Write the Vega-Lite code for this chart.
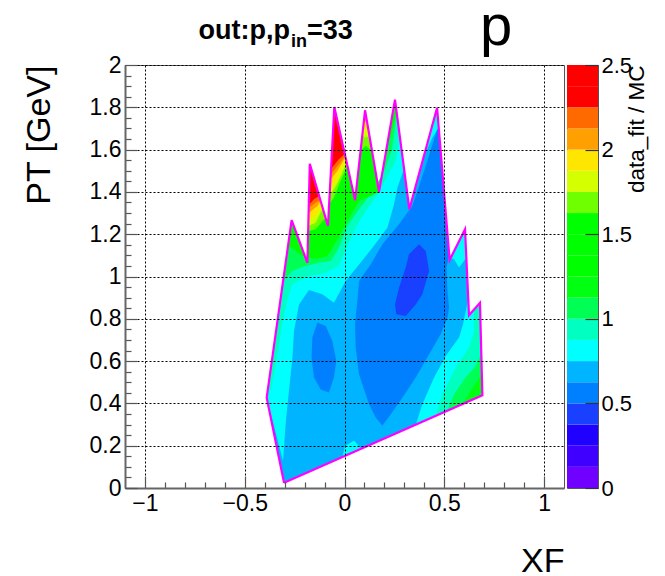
{"$schema":"https://vega.github.io/schema/vega-lite/v6.json","padding":{"left":22,"top":-2,"right":0,"bottom":0},"background":"white","spacing":1,"config":{"font":"Liberation Sans","view":{"stroke":"#555555"},"concat":{"spacing":1}},
"datasets":{
"outline":[{"o":1,"x":-0.303,"y":0.025},{"o":2,"x":-0.39,"y":0.427},{"o":3,"x":-0.265,"y":1.266},{"o":4,"x":-0.186,"y":1.065},{"o":5,"x":-0.174,"y":1.533},{"o":6,"x":-0.083,"y":1.239},{"o":7,"x":-0.051,"y":1.801},{"o":8,"x":0.053,"y":1.36},{"o":9,"x":0.103,"y":1.786},{"o":10,"x":0.173,"y":1.4},{"o":11,"x":0.253,"y":1.836},{"o":12,"x":0.325,"y":1.318},{"o":13,"x":0.464,"y":1.798},{"o":14,"x":0.527,"y":1.078},{"o":15,"x":0.604,"y":1.223},{"o":16,"x":0.624,"y":0.817},{"o":17,"x":0.679,"y":0.876},{"o":18,"x":0.691,"y":0.438},{"o":19,"x":-0.303,"y":0.025}],
"regions":[
{"g":"a","v":0.6875,"o":1,"x":-0.303,"y":0.025},{"g":"a","v":0.6875,"o":2,"x":-0.39,"y":0.427},{"g":"a","v":0.6875,"o":3,"x":-0.265,"y":1.266},{"g":"a","v":0.6875,"o":4,"x":-0.186,"y":1.065},{"g":"a","v":0.6875,"o":5,"x":-0.174,"y":1.533},{"g":"a","v":0.6875,"o":6,"x":-0.083,"y":1.239},{"g":"a","v":0.6875,"o":7,"x":-0.051,"y":1.801},{"g":"a","v":0.6875,"o":8,"x":0.053,"y":1.36},{"g":"a","v":0.6875,"o":9,"x":0.103,"y":1.786},{"g":"a","v":0.6875,"o":10,"x":0.173,"y":1.4},{"g":"a","v":0.6875,"o":11,"x":0.253,"y":1.836},{"g":"a","v":0.6875,"o":12,"x":0.325,"y":1.318},{"g":"a","v":0.6875,"o":13,"x":0.464,"y":1.798},{"g":"a","v":0.6875,"o":14,"x":0.527,"y":1.078},{"g":"a","v":0.6875,"o":15,"x":0.604,"y":1.223},{"g":"a","v":0.6875,"o":16,"x":0.624,"y":0.817},{"g":"a","v":0.6875,"o":17,"x":0.679,"y":0.876},{"g":"a","v":0.6875,"o":18,"x":0.691,"y":0.438},
{"g":"b","v":0.8125,"o":1,"x":-0.308,"y":0.128},{"g":"b","v":0.8125,"o":2,"x":-0.39,"y":0.427},{"g":"b","v":0.8125,"o":3,"x":-0.265,"y":1.266},{"g":"b","v":0.8125,"o":4,"x":-0.186,"y":1.065},{"g":"b","v":0.8125,"o":5,"x":-0.174,"y":1.533},{"g":"b","v":0.8125,"o":6,"x":-0.083,"y":1.239},{"g":"b","v":0.8125,"o":7,"x":-0.051,"y":1.801},{"g":"b","v":0.8125,"o":8,"x":0.053,"y":1.36},{"g":"b","v":0.8125,"o":9,"x":0.103,"y":1.786},{"g":"b","v":0.8125,"o":10,"x":0.173,"y":1.4},{"g":"b","v":0.8125,"o":11,"x":0.253,"y":1.836},{"g":"b","v":0.8125,"o":12,"x":0.298,"y":1.507},{"g":"b","v":0.8125,"o":13,"x":0.265,"y":1.42},{"g":"b","v":0.8125,"o":14,"x":0.248,"y":1.341},{"g":"b","v":0.8125,"o":15,"x":0.215,"y":1.231},{"g":"b","v":0.8125,"o":16,"x":0.14,"y":1.136},{"g":"b","v":0.8125,"o":17,"x":0.073,"y":1.057},{"g":"b","v":0.8125,"o":18,"x":0.006,"y":0.979},{"g":"b","v":0.8125,"o":19,"x":-0.053,"y":0.876},{"g":"b","v":0.8125,"o":20,"x":-0.111,"y":0.916},{"g":"b","v":0.8125,"o":21,"x":-0.178,"y":0.936},{"g":"b","v":0.8125,"o":22,"x":-0.228,"y":0.868},{"g":"b","v":0.8125,"o":23,"x":-0.253,"y":0.742},{"g":"b","v":0.8125,"o":24,"x":-0.261,"y":0.616},{"g":"b","v":0.8125,"o":25,"x":-0.287,"y":0.38},{"g":"b","v":0.8125,"o":26,"x":-0.295,"y":0.301},
{"g":"c","v":0.9375,"o":1,"x":-0.383,"y":0.49},{"g":"c","v":0.9375,"o":2,"x":-0.265,"y":1.266},{"g":"c","v":0.9375,"o":3,"x":-0.186,"y":1.065},{"g":"c","v":0.9375,"o":4,"x":-0.174,"y":1.533},{"g":"c","v":0.9375,"o":5,"x":-0.083,"y":1.239},{"g":"c","v":0.9375,"o":6,"x":-0.051,"y":1.801},{"g":"c","v":0.9375,"o":7,"x":0.053,"y":1.36},{"g":"c","v":0.9375,"o":8,"x":0.103,"y":1.786},{"g":"c","v":0.9375,"o":9,"x":0.173,"y":1.4},{"g":"c","v":0.9375,"o":10,"x":0.253,"y":1.836},{"g":"c","v":0.9375,"o":11,"x":0.277,"y":1.664},{"g":"c","v":0.9375,"o":12,"x":0.257,"y":1.546},{"g":"c","v":0.9375,"o":13,"x":0.215,"y":1.475},{"g":"c","v":0.9375,"o":14,"x":0.165,"y":1.388},{"g":"c","v":0.9375,"o":15,"x":0.106,"y":1.31},{"g":"c","v":0.9375,"o":16,"x":0.056,"y":1.231},{"g":"c","v":0.9375,"o":17,"x":0.009,"y":1.136},{"g":"c","v":0.9375,"o":18,"x":-0.028,"y":1.05},{"g":"c","v":0.9375,"o":19,"x":-0.094,"y":1.018},{"g":"c","v":0.9375,"o":20,"x":-0.178,"y":1.002},{"g":"c","v":0.9375,"o":21,"x":-0.261,"y":0.963},{"g":"c","v":0.9375,"o":22,"x":-0.287,"y":0.892},{"g":"c","v":0.9375,"o":23,"x":-0.312,"y":0.774},{"g":"c","v":0.9375,"o":24,"x":-0.342,"y":0.6},{"g":"c","v":0.9375,"o":25,"x":-0.37,"y":0.459},
{"g":"d","v":1.0625,"o":1,"x":-0.307,"y":0.979},{"g":"d","v":1.0625,"o":2,"x":-0.265,"y":1.266},{"g":"d","v":1.0625,"o":3,"x":-0.186,"y":1.065},{"g":"d","v":1.0625,"o":4,"x":-0.174,"y":1.533},{"g":"d","v":1.0625,"o":5,"x":-0.083,"y":1.239},{"g":"d","v":1.0625,"o":6,"x":-0.051,"y":1.801},{"g":"d","v":1.0625,"o":7,"x":0.053,"y":1.36},{"g":"d","v":1.0625,"o":8,"x":0.103,"y":1.786},{"g":"d","v":1.0625,"o":9,"x":0.173,"y":1.4},{"g":"d","v":1.0625,"o":10,"x":0.253,"y":1.836},{"g":"d","v":1.0625,"o":11,"x":0.263,"y":1.767},{"g":"d","v":1.0625,"o":12,"x":0.236,"y":1.593},{"g":"d","v":1.0625,"o":13,"x":0.203,"y":1.507},{"g":"d","v":1.0625,"o":14,"x":0.148,"y":1.412},{"g":"d","v":1.0625,"o":15,"x":0.073,"y":1.318},{"g":"d","v":1.0625,"o":16,"x":0.014,"y":1.239},{"g":"d","v":1.0625,"o":17,"x":-0.028,"y":1.136},{"g":"d","v":1.0625,"o":18,"x":-0.069,"y":1.073},{"g":"d","v":1.0625,"o":19,"x":-0.128,"y":1.065},{"g":"d","v":1.0625,"o":20,"x":-0.195,"y":1.05},{"g":"d","v":1.0625,"o":21,"x":-0.261,"y":1.026},
{"g":"e","v":1.3,"o":1,"x":-0.282,"y":1.144},{"g":"e","v":1.3,"o":2,"x":-0.265,"y":1.266},{"g":"e","v":1.3,"o":3,"x":-0.186,"y":1.065},{"g":"e","v":1.3,"o":4,"x":-0.174,"y":1.533},{"g":"e","v":1.3,"o":5,"x":-0.083,"y":1.239},{"g":"e","v":1.3,"o":6,"x":-0.051,"y":1.801},{"g":"e","v":1.3,"o":7,"x":0.053,"y":1.36},{"g":"e","v":1.3,"o":8,"x":0.103,"y":1.786},{"g":"e","v":1.3,"o":9,"x":0.173,"y":1.4},{"g":"e","v":1.3,"o":10,"x":0.148,"y":1.388},{"g":"e","v":1.3,"o":11,"x":0.073,"y":1.357},{"g":"e","v":1.3,"o":12,"x":0.023,"y":1.278},{"g":"e","v":1.3,"o":13,"x":-0.028,"y":1.184},{"g":"e","v":1.3,"o":14,"x":-0.086,"y":1.097},{"g":"e","v":1.3,"o":15,"x":-0.145,"y":1.081},{"g":"e","v":1.3,"o":16,"x":-0.211,"y":1.097},{"g":"e","v":1.3,"o":17,"x":-0.245,"y":1.121},
{"g":"f","v":1.3,"o":1,"x":0.206,"y":1.578},{"g":"f","v":1.3,"o":2,"x":0.253,"y":1.836},{"g":"f","v":1.3,"o":3,"x":0.26,"y":1.782},{"g":"f","v":1.3,"o":4,"x":0.237,"y":1.68},
{"g":"e1","v":1.6875,"o":1,"x":-0.181,"y":1.215},{"g":"e1","v":1.6875,"o":2,"x":-0.145,"y":1.223},{"g":"e1","v":1.6875,"o":3,"x":-0.103,"y":1.27},{"g":"e1","v":1.6875,"o":4,"x":-0.094,"y":1.278},{"g":"e1","v":1.6875,"o":5,"x":-0.174,"y":1.533},
{"g":"e2","v":1.8125,"o":1,"x":-0.181,"y":1.239},{"g":"e2","v":1.8125,"o":2,"x":-0.145,"y":1.254},{"g":"e2","v":1.8125,"o":3,"x":-0.108,"y":1.325},{"g":"e2","v":1.8125,"o":4,"x":-0.174,"y":1.533},
{"g":"e3","v":1.9375,"o":1,"x":-0.18,"y":1.27},{"g":"e3","v":1.9375,"o":2,"x":-0.145,"y":1.286},{"g":"e3","v":1.9375,"o":3,"x":-0.114,"y":1.341},{"g":"e3","v":1.9375,"o":4,"x":-0.174,"y":1.533},
{"g":"e4","v":2.0625,"o":1,"x":-0.178,"y":1.302},{"g":"e4","v":2.0625,"o":2,"x":-0.136,"y":1.333},{"g":"e4","v":2.0625,"o":3,"x":-0.119,"y":1.357},{"g":"e4","v":2.0625,"o":4,"x":-0.174,"y":1.533},
{"g":"e5","v":2.1875,"o":1,"x":-0.178,"y":1.325},{"g":"e5","v":2.1875,"o":2,"x":-0.145,"y":1.349},{"g":"e5","v":2.1875,"o":3,"x":-0.123,"y":1.36},{"g":"e5","v":2.1875,"o":4,"x":-0.174,"y":1.533},
{"g":"e6","v":2.375,"o":1,"x":-0.176,"y":1.341},{"g":"e6","v":2.375,"o":2,"x":-0.153,"y":1.365},{"g":"e6","v":2.375,"o":3,"x":-0.128,"y":1.381},{"g":"e6","v":2.375,"o":4,"x":-0.174,"y":1.533},
{"g":"g1","v":1.6875,"o":1,"x":-0.078,"y":1.341},{"g":"g1","v":1.6875,"o":2,"x":-0.053,"y":1.373},{"g":"g1","v":1.6875,"o":3,"x":-0.019,"y":1.452},{"g":"g1","v":1.6875,"o":4,"x":0.014,"y":1.522},{"g":"g1","v":1.6875,"o":5,"x":-0.051,"y":1.801},
{"g":"g2","v":1.8125,"o":1,"x":-0.074,"y":1.388},{"g":"g2","v":1.8125,"o":2,"x":-0.048,"y":1.42},{"g":"g2","v":1.8125,"o":3,"x":-0.014,"y":1.483},{"g":"g2","v":1.8125,"o":4,"x":0.009,"y":1.538},{"g":"g2","v":1.8125,"o":5,"x":-0.051,"y":1.801},
{"g":"g3","v":1.9375,"o":1,"x":-0.073,"y":1.42},{"g":"g3","v":1.9375,"o":2,"x":-0.041,"y":1.459},{"g":"g3","v":1.9375,"o":3,"x":-0.011,"y":1.522},{"g":"g3","v":1.9375,"o":4,"x":0.006,"y":1.554},{"g":"g3","v":1.9375,"o":5,"x":-0.051,"y":1.801},
{"g":"g4","v":2.0625,"o":1,"x":-0.069,"y":1.459},{"g":"g4","v":2.0625,"o":2,"x":-0.036,"y":1.499},{"g":"g4","v":2.0625,"o":3,"x":0.003,"y":1.562},{"g":"g4","v":2.0625,"o":4,"x":-0.051,"y":1.801},
{"g":"g5","v":2.1875,"o":1,"x":-0.068,"y":1.483},{"g":"g5","v":2.1875,"o":2,"x":-0.031,"y":1.527},{"g":"g5","v":2.1875,"o":3,"x":0.001,"y":1.567},{"g":"g5","v":2.1875,"o":4,"x":-0.051,"y":1.801},
{"g":"g6","v":2.375,"o":1,"x":-0.066,"y":1.511},{"g":"g6","v":2.375,"o":2,"x":-0.028,"y":1.554},{"g":"g6","v":2.375,"o":3,"x":-0.001,"y":1.578},{"g":"g6","v":2.375,"o":4,"x":-0.051,"y":1.801},
{"g":"i1","v":1.6875,"o":1,"x":0.079,"y":1.593},{"g":"i1","v":1.6875,"o":2,"x":0.106,"y":1.617},{"g":"i1","v":1.6875,"o":3,"x":0.138,"y":1.593},{"g":"i1","v":1.6875,"o":4,"x":0.103,"y":1.786},
{"g":"i2","v":1.8125,"o":1,"x":0.089,"y":1.672},{"g":"i2","v":1.8125,"o":2,"x":0.103,"y":1.656},{"g":"i2","v":1.8125,"o":3,"x":0.125,"y":1.664},{"g":"i2","v":1.8125,"o":4,"x":0.103,"y":1.786},
{"g":"i3","v":1.9375,"o":1,"x":0.093,"y":1.704},{"g":"i3","v":1.9375,"o":2,"x":0.115,"y":1.696},{"g":"i3","v":1.9375,"o":3,"x":0.103,"y":1.786},
{"g":"i4","v":2.0625,"o":1,"x":0.096,"y":1.735},{"g":"i4","v":2.0625,"o":2,"x":0.11,"y":1.732},{"g":"i4","v":2.0625,"o":3,"x":0.103,"y":1.786},
{"g":"m1","v":0.8125,"o":1,"x":0.395,"y":1.562},{"g":"m1","v":0.8125,"o":2,"x":0.44,"y":1.656},{"g":"m1","v":0.8125,"o":3,"x":0.472,"y":1.704},{"g":"m1","v":0.8125,"o":4,"x":0.464,"y":1.798},
{"g":"m2","v":0.9375,"o":1,"x":0.432,"y":1.704},{"g":"m2","v":0.9375,"o":2,"x":0.469,"y":1.743},{"g":"m2","v":0.9375,"o":3,"x":0.464,"y":1.798},
{"g":"m3","v":1.0625,"o":1,"x":0.447,"y":1.751},{"g":"m3","v":1.0625,"o":2,"x":0.467,"y":1.764},{"g":"m3","v":1.0625,"o":3,"x":0.464,"y":1.798},
{"g":"blob","v":0.5625,"o":1,"x":0.462,"y":1.688},{"g":"blob","v":0.5625,"o":2,"x":0.415,"y":1.546},{"g":"blob","v":0.5625,"o":3,"x":0.374,"y":1.428},{"g":"blob","v":0.5625,"o":4,"x":0.34,"y":1.333},{"g":"blob","v":0.5625,"o":5,"x":0.273,"y":1.247},{"g":"blob","v":0.5625,"o":6,"x":0.19,"y":1.152},{"g":"blob","v":0.5625,"o":7,"x":0.131,"y":1.057},{"g":"blob","v":0.5625,"o":8,"x":0.073,"y":0.979},{"g":"blob","v":0.5625,"o":9,"x":0.064,"y":0.884},{"g":"blob","v":0.5625,"o":10,"x":0.053,"y":0.774},{"g":"blob","v":0.5625,"o":11,"x":0.056,"y":0.664},{"g":"blob","v":0.5625,"o":12,"x":0.073,"y":0.537},{"g":"blob","v":0.5625,"o":13,"x":0.123,"y":0.396},{"g":"blob","v":0.5625,"o":14,"x":0.156,"y":0.333},{"g":"blob","v":0.5625,"o":15,"x":0.19,"y":0.296},{"g":"blob","v":0.5625,"o":16,"x":0.231,"y":0.348},{"g":"blob","v":0.5625,"o":17,"x":0.29,"y":0.427},{"g":"blob","v":0.5625,"o":18,"x":0.357,"y":0.522},{"g":"blob","v":0.5625,"o":19,"x":0.424,"y":0.632},{"g":"blob","v":0.5625,"o":20,"x":0.482,"y":0.727},{"g":"blob","v":0.5625,"o":21,"x":0.516,"y":0.805},{"g":"blob","v":0.5625,"o":22,"x":0.524,"y":0.853},{"g":"blob","v":0.5625,"o":23,"x":0.516,"y":0.931},{"g":"blob","v":0.5625,"o":24,"x":0.511,"y":1.042},{"g":"blob","v":0.5625,"o":25,"x":0.524,"y":1.097},{"g":"blob","v":0.5625,"o":26,"x":0.472,"y":1.704},
{"g":"deep","v":0.4375,"o":1,"x":0.323,"y":1.105},{"g":"deep","v":0.4375,"o":2,"x":0.307,"y":1.042},{"g":"deep","v":0.4375,"o":3,"x":0.273,"y":0.947},{"g":"deep","v":0.4375,"o":4,"x":0.253,"y":0.868},{"g":"deep","v":0.4375,"o":5,"x":0.26,"y":0.821},{"g":"deep","v":0.4375,"o":6,"x":0.307,"y":0.813},{"g":"deep","v":0.4375,"o":7,"x":0.357,"y":0.868},{"g":"deep","v":0.4375,"o":8,"x":0.39,"y":0.916},{"g":"deep","v":0.4375,"o":9,"x":0.424,"y":1.026},{"g":"deep","v":0.4375,"o":10,"x":0.407,"y":1.121},{"g":"deep","v":0.4375,"o":11,"x":0.374,"y":1.152},
{"g":"small","v":0.5625,"o":1,"x":-0.136,"y":0.782},{"g":"small","v":0.5625,"o":2,"x":-0.161,"y":0.711},{"g":"small","v":0.5625,"o":3,"x":-0.165,"y":0.616},{"g":"small","v":0.5625,"o":4,"x":-0.153,"y":0.522},{"g":"small","v":0.5625,"o":5,"x":-0.119,"y":0.466},{"g":"small","v":0.5625,"o":6,"x":-0.078,"y":0.451},{"g":"small","v":0.5625,"o":7,"x":-0.053,"y":0.522},{"g":"small","v":0.5625,"o":8,"x":-0.041,"y":0.6},{"g":"small","v":0.5625,"o":9,"x":-0.061,"y":0.695},{"g":"small","v":0.5625,"o":10,"x":-0.094,"y":0.766},
{"g":"r1","v":0.8125,"o":1,"x":0.621,"y":0.9},{"g":"r1","v":0.8125,"o":2,"x":0.624,"y":0.817},{"g":"r1","v":0.8125,"o":3,"x":0.679,"y":0.876},{"g":"r1","v":0.8125,"o":4,"x":0.691,"y":0.438},{"g":"r1","v":0.8125,"o":5,"x":0.357,"y":0.299},{"g":"r1","v":0.8125,"o":6,"x":0.39,"y":0.396},{"g":"r1","v":0.8125,"o":7,"x":0.449,"y":0.522},{"g":"r1","v":0.8125,"o":8,"x":0.507,"y":0.624},{"g":"r1","v":0.8125,"o":9,"x":0.574,"y":0.711},{"g":"r1","v":0.8125,"o":10,"x":0.594,"y":0.774},
{"g":"r2","v":0.9375,"o":1,"x":0.649,"y":0.843},{"g":"r2","v":0.9375,"o":2,"x":0.679,"y":0.876},{"g":"r2","v":0.9375,"o":3,"x":0.691,"y":0.438},{"g":"r2","v":0.9375,"o":4,"x":0.457,"y":0.34},{"g":"r2","v":0.9375,"o":5,"x":0.491,"y":0.443},{"g":"r2","v":0.9375,"o":6,"x":0.557,"y":0.569},{"g":"r2","v":0.9375,"o":7,"x":0.624,"y":0.664},{"g":"r2","v":0.9375,"o":8,"x":0.649,"y":0.742},
{"g":"r3","v":1.0625,"o":1,"x":0.684,"y":0.632},{"g":"r3","v":1.0625,"o":2,"x":0.691,"y":0.438},{"g":"r3","v":1.0625,"o":3,"x":0.516,"y":0.367},{"g":"r3","v":1.0625,"o":4,"x":0.549,"y":0.443},{"g":"r3","v":1.0625,"o":5,"x":0.607,"y":0.522},{"g":"r3","v":1.0625,"o":6,"x":0.658,"y":0.577},
{"g":"r4","v":1.1875,"o":1,"x":0.689,"y":0.537},{"g":"r4","v":1.1875,"o":2,"x":0.691,"y":0.438},{"g":"r4","v":1.1875,"o":3,"x":0.591,"y":0.396},{"g":"r4","v":1.1875,"o":4,"x":0.641,"y":0.474},
{"g":"o1","v":0.8125,"o":1,"x":0.529,"y":1.089},{"g":"o1","v":0.8125,"o":2,"x":0.604,"y":1.223},{"g":"o1","v":0.8125,"o":3,"x":0.611,"y":1.089},{"g":"o1","v":0.8125,"o":4,"x":0.574,"y":1.042},{"g":"o1","v":0.8125,"o":5,"x":0.549,"y":1.081},
{"g":"bot","v":0.8125,"o":1,"x":-0.011,"y":0.147},{"g":"bot","v":0.8125,"o":2,"x":0.003,"y":0.199},{"g":"bot","v":0.8125,"o":3,"x":0.048,"y":0.225},{"g":"bot","v":0.8125,"o":4,"x":0.081,"y":0.188}
],
"bar":[{"a":0,"b":0.125},{"a":0.125,"b":0.25},{"a":0.25,"b":0.375},{"a":0.375,"b":0.5},{"a":0.5,"b":0.625},{"a":0.625,"b":0.75},{"a":0.75,"b":0.875},{"a":0.875,"b":1},{"a":1,"b":1.125},{"a":1.125,"b":1.25},{"a":1.25,"b":1.375},{"a":1.375,"b":1.5},{"a":1.5,"b":1.625},{"a":1.625,"b":1.75},{"a":1.75,"b":1.875},{"a":1.875,"b":2},{"a":2,"b":2.125},{"a":2.125,"b":2.25},{"a":2.25,"b":2.375},{"a":2.375,"b":2.5}]
},
"hconcat":[
{"width":439,"height":423,
"encoding":{
"x":{"field":"x","type":"quantitative","scale":{"domain":[-1.1,1.1],"nice":false,"zero":false},
 "axis":{"title":"XF","titleFontSize":34,"titleFontWeight":"normal","titleColor":"black","titleAnchor":"end","titlePadding":23,"values":[-1,-0.9,-0.8,-0.7,-0.6,-0.5,-0.4,-0.3,-0.2,-0.1,0,0.1,0.2,0.3,0.4,0.5,0.6,0.7,0.8,0.9,1],"format":"~g","labelExpr":"abs(round(datum.value*2)-datum.value*2)<0.001?datum.label:''","labelFontSize":23,"labelColor":"black","labelPadding":16,"labelOverlap":false,"labelFlush":false,"domainColor":"#666666","domainWidth":2,"tickColor":"#555555","tickWidth":1.2,"tickSize":{"condition":{"test":"abs(round(datum.value*2)-datum.value*2)<0.001","value":-12},"value":-6},"grid":true,"gridColor":"#000000","gridDash":[2,2],"gridOpacity":{"condition":{"test":"abs(round(datum.value*2)-datum.value*2)<0.001","value":1},"value":0},"zindex":1}},
"y":{"field":"y","type":"quantitative","scale":{"domain":[0,2],"nice":false,"zero":false},
 "axis":{"title":"PT [GeV]","titleFontSize":34,"titleFontWeight":"normal","titleColor":"black","titleAnchor":"end","titlePadding":32.5,"values":[0,0.05,0.1,0.15,0.2,0.25,0.3,0.35,0.4,0.45,0.5,0.55,0.6,0.65,0.7,0.75,0.8,0.85,0.9,0.95,1,1.05,1.1,1.15,1.2,1.25,1.3,1.35,1.4,1.45,1.5,1.55,1.6,1.65,1.7,1.75,1.8,1.85,1.9,1.95,2],"format":"~g","labelExpr":"abs(round(datum.value*5)-datum.value*5)<0.001?datum.label:''","labelFontSize":23,"labelColor":"black","labelPadding":16,"labelOverlap":false,"labelFlush":false,"domainColor":"#666666","domainWidth":2,"tickColor":"#555555","tickWidth":1.2,"tickSize":{"condition":{"test":"abs(round(datum.value*5)-datum.value*5)<0.001","value":-12},"value":-6},"grid":true,"gridColor":"#000000","gridDash":[2,2],"gridOpacity":{"condition":{"test":"abs(round(datum.value*5)-datum.value*5)<0.001","value":1},"value":0},"zindex":1}}
},
"layer":[
{"data":{"name":"regions"},"mark":{"type":"line","filled":true,"interpolate":"linear-closed","strokeWidth":0},"encoding":{"detail":{"field":"g"},"order":{"field":"o","type":"quantitative"},"color":{"field":"v","type":"quantitative","legend":null,"scale":{"type":"threshold","domain":[0.125,0.25,0.375,0.5,0.625,0.75,0.875,1,1.125,1.25,1.375,1.5,1.625,1.75,1.875,2,2.125,2.25,2.375],"range":["#7000ff","#4000ff","#2000ff","#1a40ff","#0080ff","#00b4ff","#00ffff","#00ffc0","#00ff55","#00ff10","#00ff00","#00ff00","#00ff00","#70ff00","#d4ff00","#ffe600","#ff9f00","#ff6a00","#ff0000","#ff0000"]}}}},
{"data":{"name":"outline"},"mark":{"type":"line","color":"#ff00ff","strokeWidth":2.2},"encoding":{"order":{"field":"o","type":"quantitative"}}},
{"data":{"values":[{"t":"out:p,p","x":-0.732,"y":2.123}]},"mark":{"type":"text","clip":false,"align":"left","baseline":"alphabetic","fontSize":27,"fontWeight":"bold","color":"black"},"encoding":{"text":{"field":"t"}}},
{"data":{"values":[{"t":"in","x":-0.268,"y":2.085}]},"mark":{"type":"text","clip":false,"align":"left","baseline":"alphabetic","fontSize":18,"fontWeight":"bold","color":"black"},"encoding":{"text":{"field":"t"}}},
{"data":{"values":[{"t":"=33","x":-0.188,"y":2.123}]},"mark":{"type":"text","clip":false,"align":"left","baseline":"alphabetic","fontSize":27,"fontWeight":"bold","color":"black"},"encoding":{"text":{"field":"t"}}},
{"data":{"values":[{"t":"p","x":0.679,"y":2.095}]},"mark":{"type":"text","clip":false,"align":"left","baseline":"alphabetic","fontSize":58,"color":"black"},"encoding":{"text":{"field":"t"}}}
]},
{"width":31,"height":423,"data":{"name":"bar"},"mark":{"type":"rect"},
"encoding":{
"y":{"field":"a","type":"quantitative","scale":{"domain":[0,2.5],"nice":false,"zero":false},"axis":{"orient":"right","title":"data_fit / MC","titleFontSize":22.5,"titleFontWeight":"normal","titleColor":"black","titleAnchor":"end","titleAngle":-90,"titlePadding":17,"values":[0,0.5,1,1.5,2,2.5],"format":"~g","labelFontSize":22,"labelColor":"black","labelPadding":16,"labelOverlap":false,"labelFlush":false,"domain":false,"tickColor":"#333333","tickWidth":1.2,"tickSize":-13,"grid":false,"zindex":1}},
"y2":{"field":"b"},
"color":{"field":"a","type":"quantitative","legend":null,"scale":{"type":"threshold","domain":[0.125,0.25,0.375,0.5,0.625,0.75,0.875,1,1.125,1.25,1.375,1.5,1.625,1.75,1.875,2,2.125,2.25,2.375],"range":["#7000ff","#4000ff","#2000ff","#1a40ff","#0080ff","#00b4ff","#00ffff","#00ffc0","#00ff55","#00ff10","#00ff00","#00ff00","#00ff00","#70ff00","#d4ff00","#ffe600","#ff9f00","#ff6a00","#ff0000","#ff0000"]}}
}}
],
"resolve":{"scale":{"color":"independent","y":"independent"}}
}
